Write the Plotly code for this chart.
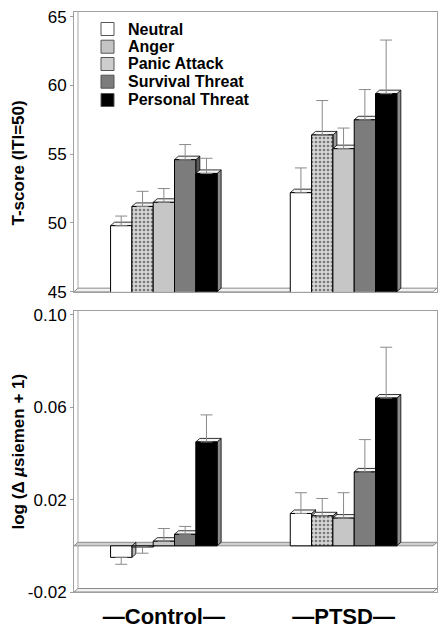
import plotly.graph_objects as go
from plotly.subplots import make_subplots

# ---------------- data ----------------
groups = [0, 1]
group_labels = ["\u2014Control\u2014", "\u2014PTSD\u2014"]
conditions = ["Neutral", "Anger", "Panic Attack", "Survival Threat", "Personal Threat"]

tscore_neutral = [49.8, 52.2]
tscore_anger = [51.2, 56.4]
tscore_panic = [51.5, 55.4]
tscore_survival = [54.6, 57.5]
tscore_personal = [53.6, 59.4]
tscore_err_neutral = [0.7, 1.8]
tscore_err_anger = [1.1, 2.5]
tscore_err_panic = [1.0, 1.5]
tscore_err_survival = [1.1, 2.2]
tscore_err_personal = [1.1, 3.9]

scr_neutral = [-0.005, 0.014]
scr_anger = [-0.0005, 0.013]
scr_panic = [0.002, 0.012]
scr_survival = [0.005, 0.032]
scr_personal = [0.045, 0.064]
scr_err_neutral = [0.003, 0.009]
scr_err_anger = [0.0027, 0.0075]
scr_err_panic = [0.0055, 0.011]
scr_err_survival = [0.0034, 0.014]
scr_err_personal = [0.0117, 0.022]

top_ticks = [45, 50, 55, 60, 65]
top_ticktext = ["45", "50", "55", "60", "65"]
bot_ticks = [-0.02, 0.02, 0.06, 0.10]
bot_ticktext = ["-0.02", "0.02", "0.06", "0.10"]

# ---------------- styles ----------------
FONT = "Liberation Sans, Arial, sans-serif"
fills = ["#ffffff", "#d2d2d2", "#c6c6c6", "#7c7c7c", "#000000"]
side_fills = ["#b8b8b8", "#9a9a9a", "#9a9a9a", "#5c5c5c", "#8c8c8c"]
patterns = [None, dict(shape=".", fgcolor="#7a7a7a", bgcolor="#d6d6d6", size=4, solidity=0.35),
            None, None, None]

top_vals = [tscore_neutral, tscore_anger, tscore_panic, tscore_survival, tscore_personal]
top_errs = [tscore_err_neutral, tscore_err_anger, tscore_err_panic, tscore_err_survival, tscore_err_personal]
bot_vals = [scr_neutral, scr_anger, scr_panic, scr_survival, scr_personal]
bot_errs = [scr_err_neutral, scr_err_anger, scr_err_panic, scr_err_survival, scr_err_personal]

BARGAP = 0.407
GW = 1 - BARGAP
BW = GW / 5
XR = [-0.5, 1.52]
TOP_RANGE = [45, 65.34]
BOT_RANGE = [-0.02, 0.1017]
DX = 0.0223
DY_TOP = 0.255
DY_BOT = 0.00152

fig = make_subplots(rows=2, cols=1, vertical_spacing=0.03)

for row, vals, errs in [(1, top_vals, top_errs), (2, bot_vals, bot_errs)]:
    for i, name in enumerate(conditions):
        v = vals[i]
        e = errs[i]
        marker = dict(color=fills[i], line=dict(color="#000000", width=1))
        if patterns[i]:
            marker["pattern"] = patterns[i]
        fig.add_trace(go.Bar(
            x=groups, y=v, name=name, showlegend=False, marker=marker,
            error_y=dict(type="data", symmetric=False,
                         array=[ee if vv >= 0 else 0 for vv, ee in zip(v, e)],
                         arrayminus=[ee if vv < 0 else 0 for vv, ee in zip(v, e)],
                         color="#8a8a8a", thickness=1, width=6),
        ), row=row, col=1)

shapes = []


def slab(xref, yref, y0, dy, fill):
    x0, x1 = XR[0], XR[1]
    return dict(type="path", xref=xref, yref=yref, layer="below",
                path=f"M {x0},{y0} L {x1 - DX},{y0} L {x1},{y0 + dy} L {x0 + DX},{y0 + dy} Z",
                fillcolor=fill, line=dict(color="#8a8a8a", width=1))


def wall(xref, yref, y0, y1):
    x = XR[0] + DX
    return dict(type="line", xref=xref, yref=yref, layer="below",
                x0=x, x1=x, y0=y0, y1=y1, line=dict(color="#a8a8a8", width=1))


def faces(xref, yref, vals, base, dy):
    out = []
    for i in range(5):
        for g, v in zip(groups, vals[i]):
            xl = g - GW / 2 + i * BW
            xr = xl + BW
            if v >= base:
                out.append(dict(type="path", xref=xref, yref=yref, layer="below",
                                path=f"M {xr},{base} L {xr},{v} L {xr + DX},{v + dy} L {xr + DX},{base + dy} Z",
                                fillcolor=side_fills[i], line=dict(color="#000", width=0.8)))
                out.append(dict(type="path", xref=xref, yref=yref, layer="below",
                                path=f"M {xl},{v} L {xr},{v} L {xr + DX},{v + dy} L {xl + DX},{v + dy} Z",
                                fillcolor="#f4f4f4", line=dict(color="#000", width=0.8)))
            else:
                out.append(dict(type="path", xref=xref, yref=yref, layer="below",
                                path=f"M {xr},{v} L {xr},{base} L {xr + DX},{base + dy} L {xr + DX},{v + dy} Z",
                                fillcolor=side_fills[i], line=dict(color="#000", width=0.8)))
    return out


shapes.append(wall("x", "y", TOP_RANGE[0] + DY_TOP, TOP_RANGE[1]))
shapes.append(slab("x", "y", TOP_RANGE[0], DY_TOP, "#f2f2f2"))
shapes += faces("x", "y", top_vals, TOP_RANGE[0], DY_TOP)
shapes.append(wall("x2", "y2", BOT_RANGE[0] + DY_BOT, BOT_RANGE[1]))
shapes.append(slab("x2", "y2", BOT_RANGE[0], DY_BOT, "#f2f2f2"))
shapes.append(slab("x2", "y2", 0, DY_BOT, "#cfcfcf"))
shapes += faces("x2", "y2", bot_vals, 0, DY_BOT)

# page body has an 8px default margin: the figure is sized to fill the rest of the window
OFF = 8
WIN_W, WIN_H = 448, 635
W, H = WIN_W - OFF, WIN_H - OFF
L, R, T, B = 74 - OFF, 11, 12 - OFF, 43
PW, PH = W - L - R, H - T - B


def px(xw):
    return (xw - OFF - L) / PW


def py(yw):
    return (H - B - (yw - OFF)) / PH


annotations = []
legend_rows = [29, 46.7, 64, 81.7, 100]
swatch_fills = ["#ffffff", "#c4c4c4", "#cdcdcd", "#7c7c7c", "#000000"]
for i, name in enumerate(conditions):
    yc = legend_rows[i]
    shapes.append(dict(type="rect", xref="paper", yref="paper",
                       x0=px(101), x1=px(114), y0=py(yc + 6.5), y1=py(yc - 6.5),
                       fillcolor=swatch_fills[i], line=dict(color="#555", width=1)))
    annotations.append(dict(xref="paper", yref="paper", x=px(126), y=py(yc),
                            xanchor="left", yanchor="middle", showarrow=False,
                            text=f"<b>{name}</b>", font=dict(family=FONT, size=16, color="#000")))

annotations.append(dict(xref="paper", yref="paper", x=px(18), y=py(163.5),
                        xanchor="center", yanchor="middle", showarrow=False, textangle=-90,
                        text="<b>T-score (ITI=50)</b>", font=dict(family=FONT, size=17, color="#000")))
annotations.append(dict(xref="paper", yref="paper", x=px(18), y=py(451.5),
                        xanchor="center", yanchor="middle", showarrow=False, textangle=-90,
                        text="<b>log (\u0394 <i>\u00b5</i>siemen + 1)</b>",
                        font=dict(family=FONT, size=17, color="#000")))

axis_common = dict(showline=True, mirror=True, linecolor="#a0a0a0", linewidth=1,
                   showgrid=False, zeroline=False, automargin=False, ticklabeloverflow="allow")

fig.update_layout(
    template="none",
    width=W, height=H,
    margin=dict(l=L, r=R, t=T, b=B, autoexpand=False),
    barmode="group", bargap=BARGAP, bargroupgap=0,
    plot_bgcolor="#ffffff", paper_bgcolor="#ffffff",
    font=dict(family=FONT, color="#000"),
    shapes=shapes, annotations=annotations,
    showlegend=False,
    xaxis=dict(range=XR, domain=[0, 1], showticklabels=False, ticks="", **axis_common),
    xaxis2=dict(range=XR, domain=[0, 1], tickvals=groups, ticktext=group_labels, ticks="",
                ticklabelstandoff=5,
                tickfont=dict(family=FONT, size=22, color="#000", weight="bold"), **axis_common),
    yaxis=dict(range=TOP_RANGE, domain=[0.5178, 1.0], tickvals=top_ticks, ticktext=top_ticktext,
               ticks="outside", ticklen=3, tickcolor="#a0a0a0",
               tickfont=dict(family=FONT, size=17, color="#000"), **axis_common),
    yaxis2=dict(range=BOT_RANGE, domain=[0, 0.4845], tickvals=bot_ticks, ticktext=bot_ticktext,
                ticks="outside", ticklen=3, tickcolor="#a0a0a0",
                tickfont=dict(family=FONT, size=17, color="#000"), **axis_common),
)

fig.write_html("out.html")
